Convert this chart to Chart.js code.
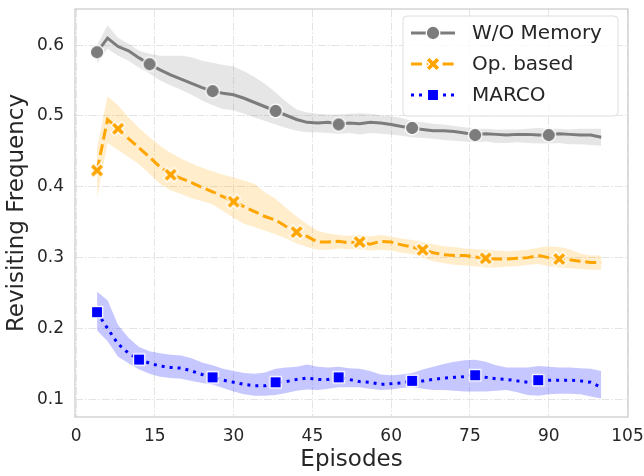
<!DOCTYPE html>
<html>
<head>
<meta charset="utf-8">
<script src="https://cdn.jsdelivr.net/npm/chart.js@4"></script>
<style>
  html, body { margin: 0; padding: 0; background: #fff; }
  #wrap { width: 644px; height: 476px; }
</style>
</head>
<body>
<div id="wrap"><canvas id="grafico" width="644" height="476"></canvas></div>
<script>
// episodios (a cada 2)
const episodes = [4,6,8,10,12,14,16,18,20,22,24,26,28,30,32,34,36,38,40,42,44,46,48,50,52,54,56,58,60,62,64,66,68,70,72,74,76,78,80,82,84,86,88,90,92,94,96,98,100];

const xTicks = [0, 15, 30, 45, 60, 75, 90, 105];
const yTicks = [0.1, 0.2, 0.3, 0.4, 0.5, 0.6];

// W/O Memory
const memMean = [0.590,0.610,0.598,0.592,0.582,0.573,0.565,0.558,0.552,0.546,0.540,0.535,0.532,0.530,0.525,0.519,0.513,0.507,0.501,0.495,0.491,0.490,0.491,0.488,0.490,0.489,0.491,0.490,0.488,0.485,0.483,0.481,0.479,0.479,0.478,0.476,0.473,0.475,0.474,0.473,0.474,0.474,0.473,0.473,0.475,0.474,0.473,0.473,0.470];
const memUpper = [0.600,0.628,0.610,0.602,0.592,0.588,0.585,0.585,0.585,0.583,0.578,0.575,0.572,0.570,0.563,0.555,0.545,0.533,0.520,0.509,0.505,0.503,0.502,0.502,0.503,0.504,0.503,0.501,0.500,0.497,0.493,0.491,0.489,0.488,0.486,0.484,0.482,0.482,0.481,0.481,0.481,0.482,0.483,0.482,0.482,0.481,0.482,0.482,0.482];
const memLower = [0.574,0.595,0.585,0.578,0.568,0.560,0.550,0.543,0.537,0.530,0.522,0.515,0.510,0.508,0.503,0.498,0.493,0.488,0.483,0.479,0.477,0.477,0.476,0.475,0.476,0.474,0.476,0.475,0.474,0.472,0.470,0.469,0.468,0.466,0.465,0.464,0.463,0.464,0.462,0.462,0.463,0.462,0.461,0.461,0.462,0.460,0.460,0.459,0.458];
const memMarks = [4, 14, 26, 38, 50, 64, 76, 90];

// Op. based
const opMean = [0.423,0.495,0.482,0.468,0.455,0.442,0.428,0.417,0.412,0.406,0.399,0.393,0.386,0.379,0.372,0.365,0.358,0.353,0.344,0.336,0.330,0.322,0.322,0.323,0.321,0.322,0.319,0.323,0.322,0.318,0.315,0.311,0.307,0.304,0.303,0.303,0.301,0.299,0.298,0.298,0.299,0.300,0.303,0.300,0.298,0.297,0.295,0.293,0.293];
const opUpper = [0.455,0.528,0.515,0.498,0.483,0.470,0.458,0.448,0.440,0.433,0.427,0.422,0.417,0.413,0.409,0.404,0.392,0.383,0.370,0.358,0.347,0.338,0.334,0.332,0.331,0.332,0.330,0.332,0.330,0.327,0.325,0.322,0.319,0.316,0.315,0.313,0.312,0.311,0.310,0.309,0.310,0.311,0.314,0.316,0.315,0.312,0.306,0.303,0.303];
const opLower = [0.385,0.462,0.452,0.442,0.432,0.418,0.404,0.395,0.390,0.384,0.380,0.375,0.366,0.356,0.348,0.343,0.338,0.333,0.327,0.320,0.315,0.311,0.311,0.313,0.312,0.312,0.310,0.311,0.310,0.307,0.305,0.300,0.295,0.292,0.290,0.289,0.288,0.286,0.286,0.287,0.288,0.290,0.291,0.288,0.286,0.285,0.284,0.283,0.283];
const opMarks = [4, 8, 18, 30, 42, 54, 66, 78, 92];

// MARCO
const marcoMean = [0.223,0.200,0.178,0.165,0.156,0.151,0.147,0.145,0.144,0.140,0.135,0.131,0.127,0.124,0.121,0.119,0.119,0.124,0.125,0.128,0.130,0.128,0.128,0.131,0.128,0.125,0.124,0.121,0.122,0.123,0.126,0.126,0.128,0.130,0.131,0.132,0.134,0.131,0.129,0.128,0.126,0.124,0.127,0.127,0.127,0.127,0.126,0.124,0.117];
const marcoUpper = [0.252,0.240,0.205,0.187,0.174,0.168,0.165,0.163,0.162,0.158,0.152,0.148,0.143,0.140,0.137,0.136,0.138,0.143,0.145,0.146,0.149,0.146,0.145,0.146,0.144,0.143,0.140,0.135,0.134,0.135,0.137,0.142,0.146,0.150,0.153,0.155,0.156,0.153,0.148,0.145,0.145,0.145,0.147,0.146,0.145,0.145,0.144,0.143,0.140];
const marcoLower = [0.197,0.182,0.160,0.151,0.142,0.136,0.132,0.130,0.129,0.126,0.123,0.121,0.116,0.111,0.107,0.105,0.105,0.106,0.109,0.112,0.114,0.113,0.115,0.117,0.117,0.117,0.115,0.113,0.114,0.116,0.117,0.115,0.113,0.113,0.112,0.111,0.111,0.111,0.112,0.113,0.110,0.106,0.105,0.107,0.108,0.108,0.107,0.104,0.101];
const marcoMarks = [4, 12, 26, 38, 50, 64, 76, 88];

const FONTE = "'DejaVu Sans', sans-serif";
const TEXTO = '#262626';

function pontos(valores) {
    return valores.map((v, i) => ({ x: episodes[i], y: v }));
}

// marcadores desenhados em canvas (circulo, X cheio, quadrado) com borda branca
function criarMarcador(tipo, cor) {
    const c = document.createElement('canvas');
    c.width = 20; c.height = 20;
    const g = c.getContext('2d');
    g.translate(10, 10);
    g.fillStyle = cor;
    g.strokeStyle = '#fff';
    g.lineWidth = 1.3;
    g.beginPath();
    if (tipo === 'circulo') {
        g.arc(0, 0, 6.8, 0, Math.PI * 2);
    } else if (tipo === 'quadrado') {
        g.rect(-5.6, -5.6, 11.2, 11.2);
    } else {
        const s = 15 / 6;
        const cruz = [[-1,-3],[1,-3],[1,-1],[3,-1],[3,1],[1,1],[1,3],[-1,3],[-1,1],[-3,1],[-3,-1],[-1,-1]];
        g.rotate(Math.PI / 4);
        cruz.forEach((p, i) => {
            if (i === 0) g.moveTo(p[0] * s, p[1] * s);
            else g.lineTo(p[0] * s, p[1] * s);
        });
        g.closePath();
    }
    g.fill();
    g.stroke();
    return c;
}

const series = [
    { nome: 'W/O Memory', cor: '#7c7c7c', banda: 'rgba(128,128,128,0.2)', media: memMean, sup: memUpper, inf: memLower, marcas: memMarks, tracejado: [], marcador: criarMarcador('circulo', '#7c7c7c') },
    { nome: 'Op. based', cor: '#FFA500', banda: 'rgba(255,165,0,0.2)', media: opMean, sup: opUpper, inf: opLower, marcas: opMarks, tracejado: [11, 4.8], marcador: criarMarcador('x', '#FFA500') },
    { nome: 'MARCO', cor: '#0000FF', banda: 'rgba(0,0,255,0.22)', media: marcoMean, sup: marcoUpper, inf: marcoLower, marcas: marcoMarks, tracejado: [3, 5], marcador: criarMarcador('quadrado', '#0000FF') }
];

const datasets = [];
series.forEach(s => {
    datasets.push({
        data: pontos(s.sup), borderWidth: 0, pointRadius: 0,
        backgroundColor: s.banda, fill: '+1', order: 2
    });
    datasets.push({
        data: pontos(s.inf), borderWidth: 0, pointRadius: 0,
        backgroundColor: s.banda, fill: false, order: 2
    });
});
series.forEach(s => {
    const idx = s.marcas.map(e => episodes.indexOf(e));
    datasets.push({
        label: s.nome,
        data: pontos(s.media),
        borderColor: s.cor,
        borderWidth: 3,
        borderDash: s.tracejado,
        fill: false,
        pointStyle: s.marcador,
        pointRadius: ctx => idx.includes(ctx.dataIndex) ? 6 : 0,
        order: 0
    });
});

// moldura do grafico + legenda dentro da area
const moldura = {
    id: 'moldura',
    afterDatasetsDraw(chart) {
        const a = chart.chartArea;
        const ctx = chart.ctx;
        ctx.save();
        ctx.strokeStyle = '#cccccc';
        ctx.lineWidth = 1.25;
        ctx.strokeRect(a.left, a.top, a.right - a.left, a.bottom - a.top);

        // legenda
        const x0 = 403, y0 = 16, w = 215, h = 100;
        ctx.beginPath();
        ctx.roundRect(x0, y0, w, h, 4);
        ctx.fillStyle = 'rgba(255,255,255,0.8)';
        ctx.fill();
        ctx.strokeStyle = '#dedede';
        ctx.lineWidth = 1;
        ctx.stroke();

        const linhas = [33, 64, 95];
        series.forEach((s, i) => {
            const y = linhas[i];
            ctx.beginPath();
            ctx.setLineDash(s.tracejado);
            ctx.strokeStyle = s.cor;
            ctx.lineWidth = 3;
            ctx.moveTo(411, y);
            ctx.lineTo(455, y);
            ctx.stroke();
            ctx.setLineDash([]);
            ctx.drawImage(s.marcador, 433 - 10, y - 10);
            ctx.fillStyle = TEXTO;
            ctx.font = '20px ' + FONTE;
            ctx.textBaseline = 'middle';
            ctx.fillText(s.nome, 472, y + 1);
        });
        ctx.restore();
    }
};

const grade = {
    color: '#e4e4e4',
    lineWidth: 1,
    drawTicks: false
};
const tracoGrade = [8, 2, 1.5, 2];

new Chart(document.getElementById('grafico'), {
    type: 'line',
    data: { datasets },
    options: {
        responsive: false,
        animation: false,
        layout: { padding: { left: 3, right: 16, top: 5, bottom: 2 } },
        elements: { line: { tension: 0 } },
        plugins: {
            legend: { display: false },
            tooltip: { enabled: false }
        },
        scales: {
            x: {
                type: 'linear',
                min: -0.2,
                max: 105.1,
                afterBuildTicks: scale => { scale.ticks = xTicks.map(v => ({ value: v })); },
                afterFit: scale => { scale.height = 57; scale.paddingLeft = 0; scale.paddingRight = 0; },
                ticks: { color: TEXTO, font: { family: FONTE, size: 17 }, padding: 9, maxRotation: 0 },
                grid: { ...grade },
                border: { display: false, dash: tracoGrade },
                title: { display: true, text: 'Episodes', color: TEXTO, font: { family: FONTE, size: 23 }, padding: 0 }
            },
            y: {
                min: 0.075,
                max: 0.651,
                afterBuildTicks: scale => { scale.ticks = yTicks.map(v => ({ value: v })); },
                afterFit: scale => { scale.width = 72; scale.paddingTop = 0; scale.paddingBottom = 0; },
                ticks: { color: TEXTO, font: { family: FONTE, size: 17 }, padding: 11, callback: v => v.toFixed(1) },
                grid: { ...grade },
                border: { display: false, dash: tracoGrade },
                title: { display: true, text: 'Revisiting Frequency', color: TEXTO, font: { family: FONTE, size: 23 }, padding: 0 }
            }
        }
    },
    plugins: [moldura]
});
</script>
</body>
</html>
